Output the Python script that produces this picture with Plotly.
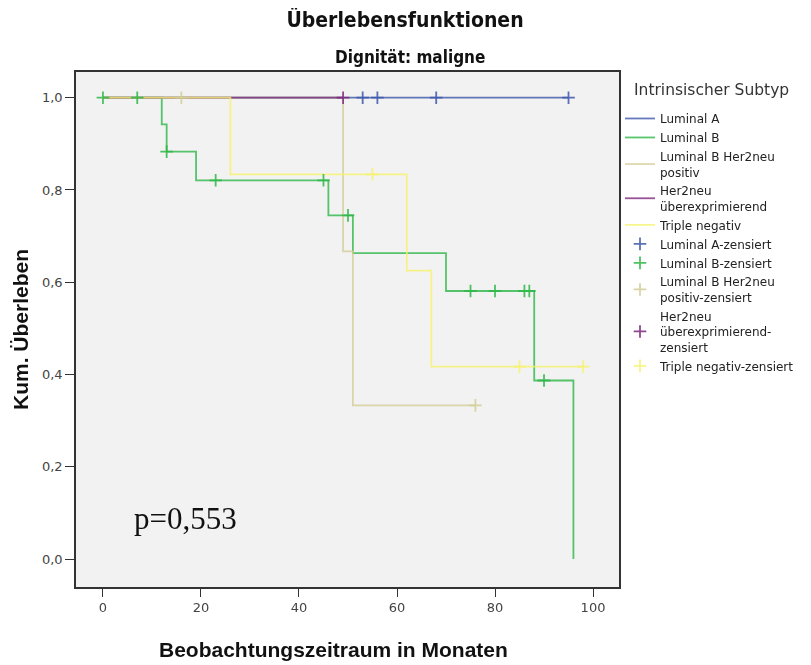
import plotly.graph_objects as go

# ---- data ----
groups = ["Luminal A", "Luminal B", "Luminal B Her2neu<br>positiv",
          "Her2neu<br>überexprimierend", "Triple negativ"]
censor_names = ["Luminal A-zensiert", "Luminal B-zensiert",
                "Luminal B Her2neu<br>positiv-zensiert",
                "Her2neu<br>überexprimierend-<br>zensiert",
                "Triple negativ-zensiert"]

lum_a_t = [0, 95]
lum_a_s = [1.0, 1.0]
lum_a_ct = [53, 56, 68, 95]
lum_a_cs = [1.0, 1.0, 1.0, 1.0]

lum_b_t = [0, 12, 13, 19, 46, 51, 70, 88, 96]
lum_b_s = [1.0, 0.942, 0.883, 0.821, 0.745, 0.663, 0.581, 0.387, 0.0]
lum_b_ct = [0, 7, 13, 23, 45, 50, 75, 80, 86, 87, 90]
lum_b_cs = [1.0, 1.0, 0.883, 0.821, 0.821, 0.745, 0.581, 0.581, 0.581, 0.581, 0.387]

lbh_t = [0, 49, 51, 76]
lbh_s = [1.0, 0.667, 0.333, 0.333]
lbh_ct = [16, 76]
lbh_cs = [1.0, 0.333]

her_t = [0, 49]
her_s = [1.0, 1.0]
her_ct = [49]
her_cs = [1.0]

tn_t = [0, 26, 62, 67, 98]
tn_s = [1.0, 0.834, 0.625, 0.417, 0.417]
tn_ct = [55, 85, 98]
tn_cs = [0.834, 0.417, 0.417]

x_ticks = [0, 20, 40, 60, 80, 100]
y_ticks = [0.0, 0.2, 0.4, 0.6, 0.8, 1.0]

colors = ["#3E58AC", "#2EB848", "#D3CE97", "#7C287D", "#F8F270"]

curves = [(lum_a_t, lum_a_s), (lum_b_t, lum_b_s), (lbh_t, lbh_s),
          (her_t, her_s), (tn_t, tn_s)]
censors = [(lum_a_ct, lum_a_cs), (lum_b_ct, lum_b_cs), (lbh_ct, lbh_cs),
           (her_ct, her_cs), (tn_ct, tn_cs)]

fig = go.Figure()
for name, (t, s), c in zip(groups, curves, colors):
    fig.add_trace(go.Scatter(x=t, y=s, mode="lines", name=name,
                             line=dict(color=c, width=1.8, shape="hv"),
                             opacity=0.8))
for name, (t, s), c in zip(censor_names, censors, colors):
    fig.add_trace(go.Scatter(x=t, y=s, mode="markers", name=name,
                             marker=dict(symbol="cross-thin", size=9,
                                         line=dict(color=c, width=1.8)),
                             opacity=0.85))

W, H = 803, 657  # page body adds an 8px offset
PW, PH = 544, 515.5
L, T = 68, 64
fig.update_layout(
    width=W, height=H,
    margin=dict(l=L, r=W - L - PW, t=T, b=H - T - PH),
    paper_bgcolor="white", plot_bgcolor="#F2F2F2",
    separators=",.",
    title=dict(text="<b>Überlebensfunktionen</b>", x=397 / W, xanchor="center",
               y=1 - 12 / H, yanchor="middle",
               font=dict(family="DejaVu Sans Condensed", size=21, color="#111")),
    annotations=[
        dict(text="<b>Dignität: maligne</b>", xref="paper", yref="paper",
             x=(411 - 76) / PW, y=1 + 15 / PH, xanchor="center", yanchor="middle",
             showarrow=False,
             font=dict(family="DejaVu Sans Condensed", size=17, color="#111")),
        dict(text="p=0,553", xref="x", yref="y", x=6, y=0.088,
             xanchor="left", yanchor="middle", showarrow=False,
             font=dict(family="Liberation Serif", size=31, color="#111")),
        dict(text="<b>Beobachtungszeitraum in Monaten</b>", xref="paper", yref="paper",
             x=(334 - 76) / PW, y=-(650 - 587.5) / PH, xanchor="center", yanchor="middle",
             showarrow=False,
             font=dict(family="Liberation Sans", size=21, color="#111")),
        dict(text="Intrinsischer Subtyp", xref="paper", yref="paper",
             x=1 + (633 - 620) / PW, y=1 - (90 - 72) / PH, xanchor="left", yanchor="middle",
             showarrow=False,
             font=dict(family="DejaVu Sans", size=15.5, color="#333")),
    ],
    showlegend=True,
    legend=dict(x=1.0, xanchor="left", y=1 - (104 - 72) / PH, yanchor="top",
                font=dict(family="DejaVu Sans", size=12, color="#222"),
                bgcolor="rgba(0,0,0,0)", tracegroupgap=0, itemwidth=30),
)

fig.update_xaxes(range=[-5.5, 105.3], tickvals=x_ticks, ticks="outside", ticklen=8,
                 tickcolor="#333", showgrid=False, zeroline=False, automargin=False,
                 showline=True, linecolor="#333", linewidth=1.5, mirror=True,
                 tickfont=dict(family="DejaVu Sans", size=13, color="#444"))
fig.update_yaxes(range=[-0.0606, 1.0557], tickvals=y_ticks, tickformat=".1f",
                 ticks="outside", ticklen=9, tickcolor="#333", automargin=False,
                 showgrid=False, zeroline=False,
                 showline=True, linecolor="#333", linewidth=1.5, mirror=True,
                 tickfont=dict(family="DejaVu Sans", size=13, color="#444"),
                 title=dict(text="<b>Kum. Überleben</b>", standoff=8,
                            font=dict(family="Liberation Sans", size=21, color="#111")))

fig.write_html("out.html")
